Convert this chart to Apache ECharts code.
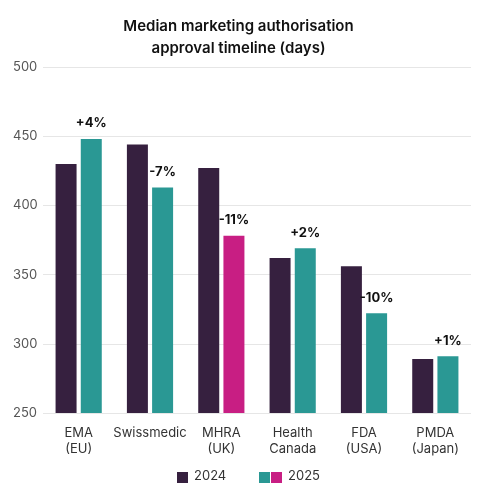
<!DOCTYPE html>
<html><head><meta charset="utf-8">
<script src="https://cdn.jsdelivr.net/npm/echarts@6/dist/echarts.min.js"></script>
<style>html,body{margin:0;padding:0;background:#fff}#c{width:477px;height:500px}</style>
</head><body><div id="c"></div>
<script>
const categories = ['EMA\n(EU)', 'Swissmedic', 'MHRA\n(UK)', 'Health\nCanada', 'FDA\n(USA)', 'PMDA\n(Japan)'];
const values2024 = [430, 444, 427, 362, 356, 289];
const values2025 = [448, 413, 378, 369, 322, 291];
const changeLabels = ['+4%', '-7%', '-11%', '+2%', '-10%', '+1%'];
const highlightIndex = 2;
const yTicks = [250, 300, 350, 400, 450, 500];

const C24 = '#36203f', C25 = '#2a9894', CH = '#c81e83';
const font = 'Inter, "Noto Sans", sans-serif';
const chart = echarts.init(document.getElementById('c'));
chart.setOption({
  textStyle: {fontFamily: font},
  title: {text: 'Median marketing authorisation\napproval timeline (days)', left: 'center', top: 10,
    textStyle: {fontSize: 15, fontWeight: 600, color: '#111', lineHeight: 22, fontFamily: font}},
  grid: {left: 43, right: 6, top: 67, bottom: 87},
  xAxis: {type: 'category', data: categories,
    axisLine: {show: false}, axisTick: {show: false},
    axisLabel: {color: '#333', fontSize: 13, lineHeight: 16, margin: 12, interval: 0}},
  yAxis: {type: 'value', min: yTicks[0], max: yTicks[yTicks.length - 1], interval: 50,
    axisLabel: {color: '#555', fontSize: 13, margin: 30, align: 'left'},
    splitLine: {lineStyle: {color: '#e6e6e6'}}},
  series: [
    {name: '2024', type: 'bar', data: values2024, barWidth: 21, barGap: '20%', itemStyle: {color: C24}},
    {name: '2025', type: 'bar', barWidth: 21,
      data: values2025.map((v, i) => ({value: v, itemStyle: {color: i === highlightIndex ? CH : C25}})),
      label: {show: true, position: 'top', distance: 9, fontWeight: 'bold', fontSize: 13, color: '#111',
        formatter: p => changeLabels[p.dataIndex]}}
  ],
  graphic: [
    {type: 'rect', left: 177, top: 472, shape: {width: 11, height: 11}, style: {fill: C24}},
    {type: 'text', left: 194, top: 470, style: {text: '2024', fontSize: 13, fill: '#333', fontFamily: font}},
    {type: 'rect', left: 259, top: 472, shape: {width: 11, height: 11}, style: {fill: C25}},
    {type: 'rect', left: 271, top: 472, shape: {width: 11, height: 11}, style: {fill: CH}},
    {type: 'text', left: 288, top: 470, style: {text: '2025', fontSize: 13, fill: '#333', fontFamily: font}}
  ]
});
</script></body></html>
